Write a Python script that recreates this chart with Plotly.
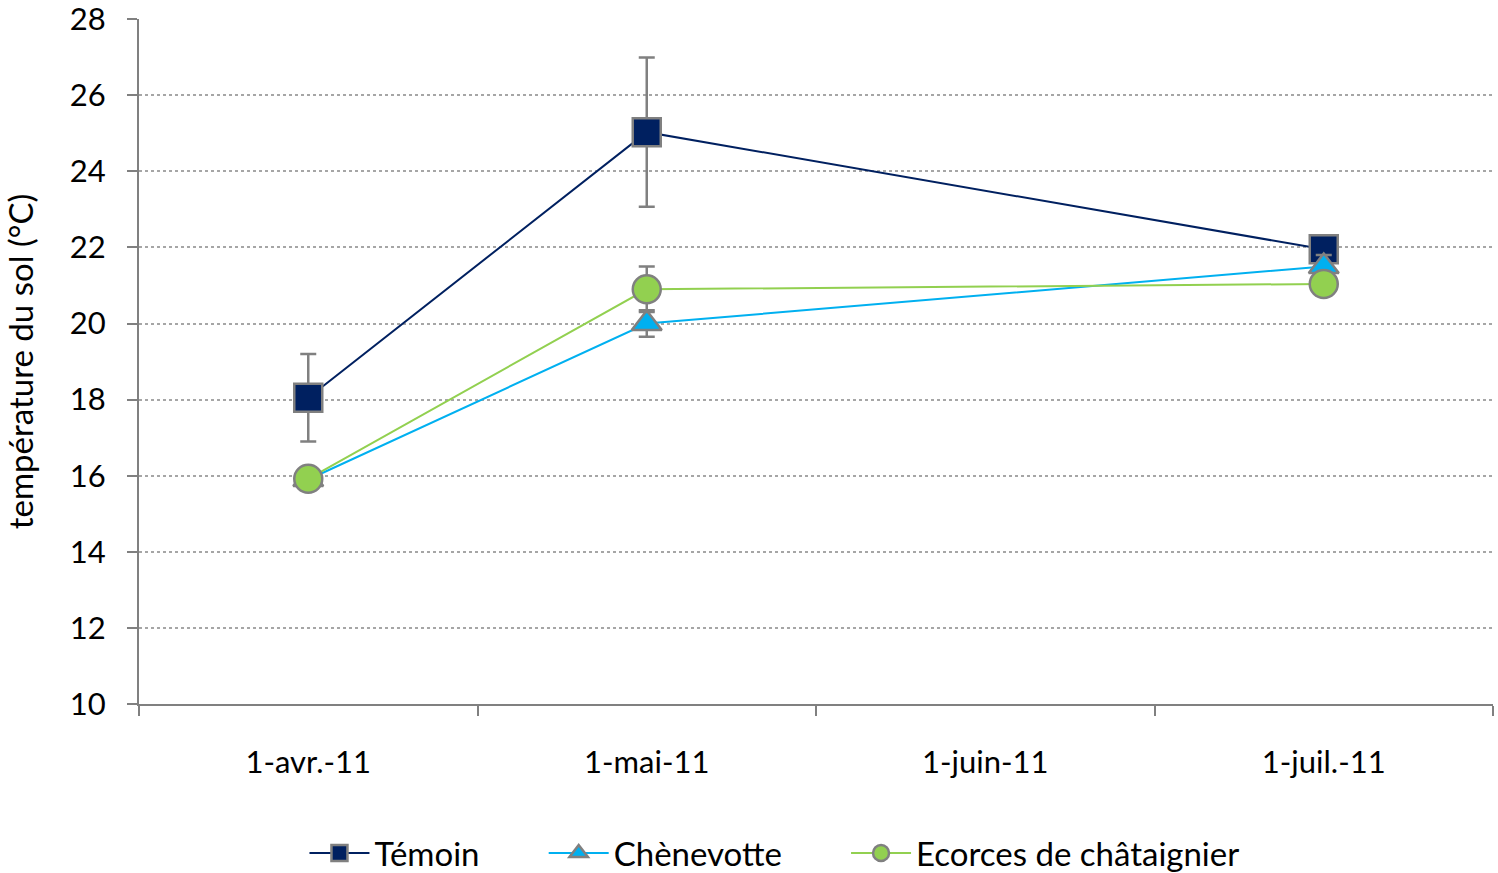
import plotly.graph_objects as go

# Dates de mesure (axe catégoriel, pas de mesure en juin)
dates = ["1-avr.-11", "1-mai-11", "1-juin-11", "1-juil.-11"]

temoin = [18.05, 25.03, None, 21.95]
temoin_err = [1.15, 1.96, None, 0.3]

chenevotte = [15.9, 20.0, None, 21.5]
chenevotte_err = [0.2, 0.35, None, 0.3]

ecorces = [15.92, 20.9, None, 21.04]
ecorces_err = [0.2, 0.6, None, 0.3]

series = [
    ("Témoin", temoin, temoin_err, "#002060", "square", 28),
    ("Chènevotte", chenevotte, chenevotte_err, "#00B0F0", "triangle-up", 26),
    ("Ecorces de châtaignier", ecorces, ecorces_err, "#92D050", "circle", 28),
]

FONT = "Lato, 'Open Sans', sans-serif"
PAD = "\u00a0" * 7

fig = go.Figure()
for i, (name, vals, errs, color, symbol, size) in enumerate(series):
    label = name + (PAD if i < len(series) - 1 else "")
    fig.add_trace(go.Scatter(
        x=dates, y=vals, name=label, mode="lines+markers",
        connectgaps=True,
        line=dict(color=color, width=2),
        marker=dict(symbol=symbol, size=size, color=color,
                    line=dict(color="#808080", width=2.5)),
        error_y=dict(type="data", array=errs, visible=True,
                     color="#808080", thickness=2.5, width=8),
    ))

fig.update_layout(
    width=1498, height=873,
    margin=dict(l=139, r=5, t=19, b=169, autoexpand=False),
    paper_bgcolor="white", plot_bgcolor="white",
    font=dict(family=FONT, size=31, color="#000000"),
    showlegend=True,
    legend=dict(orientation="h", x=0.517, xanchor="center",
                xref="container", yref="container",
                y=1 - 853 / 873, yanchor="middle",
                font=dict(size=33), itemwidth=60, tracegroupgap=0),
    xaxis=dict(
        type="category", categoryorder="array", categoryarray=dates,
        range=[-0.5, 3.5], automargin=False,
        tickson="boundaries", ticks="outside", ticklen=10, tickwidth=2,
        tickcolor="#808080", showline=True, linecolor="#808080", linewidth=2,
        showgrid=False, ticklabelstandoff=30,
        tickfont=dict(family=FONT, size=31),
    ),
    yaxis=dict(
        range=[10, 28.004], tickmode="array",
        tickvals=list(range(10, 29, 2)),
        ticks="outside", ticklen=10, tickwidth=2,
        tickcolor="#808080", showline=True, linecolor="#808080", linewidth=2,
        showgrid=True, gridcolor="#A6A6A6", griddash="dot", gridwidth=1.5,
        zeroline=False, ticklabelstandoff=15, automargin=False,
        ticklabeloverflow="allow",
        tickfont=dict(family=FONT, size=31),
        title=dict(text="température du sol (°C)", font=dict(family=FONT, size=33),
                   standoff=28),
    ),
)

fig.write_html("out.html")
